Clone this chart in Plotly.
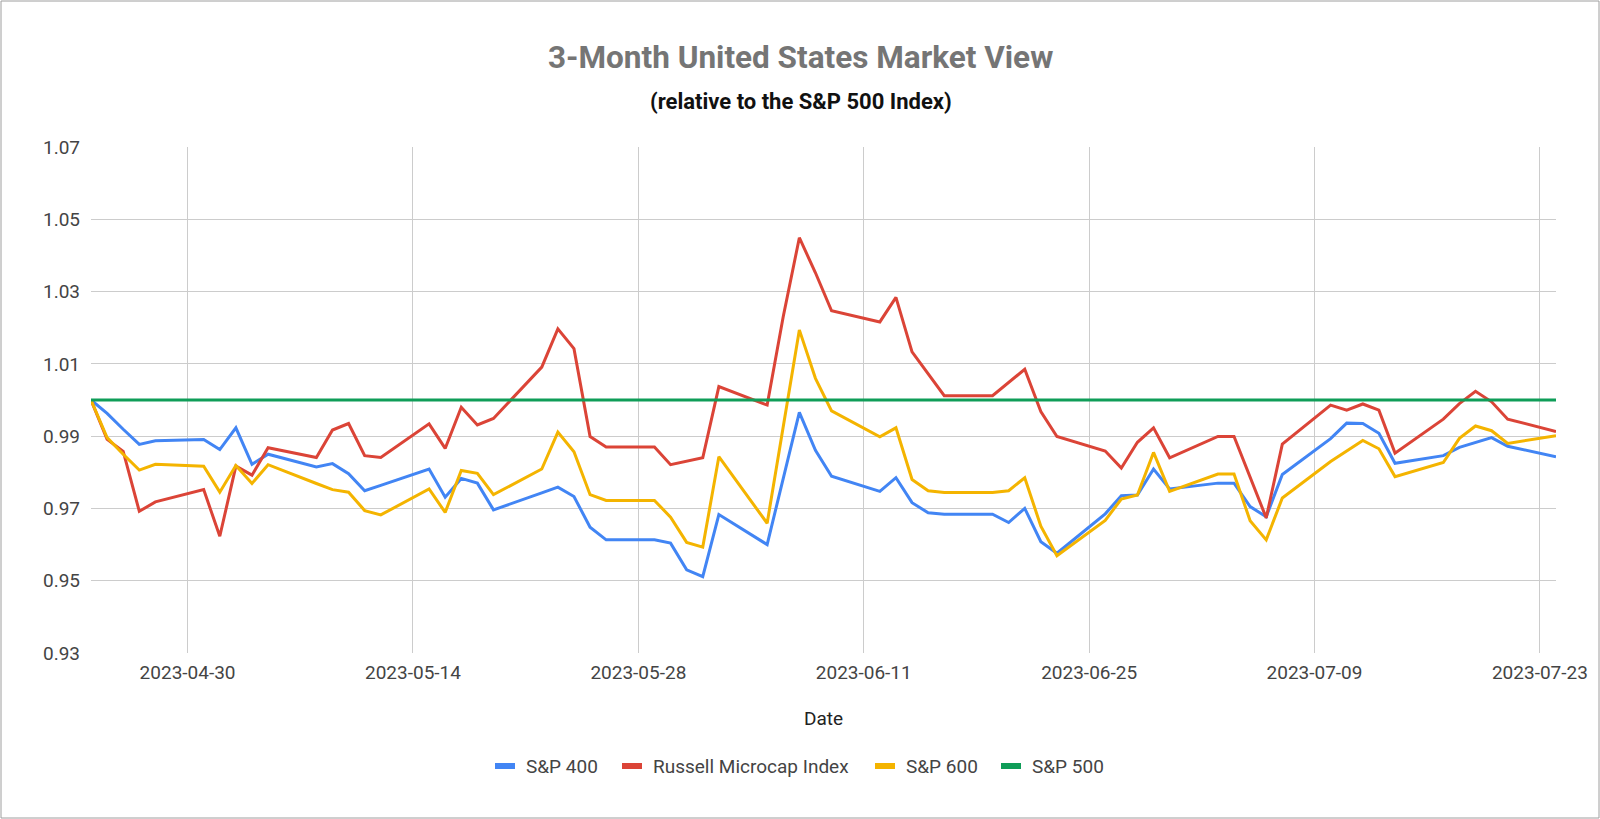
import plotly.graph_objects as go

dates = [
    "2023-04-24", "2023-04-25", "2023-04-26", "2023-04-27", "2023-04-28",
    "2023-05-01", "2023-05-02", "2023-05-03", "2023-05-04", "2023-05-05",
    "2023-05-08", "2023-05-09", "2023-05-10", "2023-05-11", "2023-05-12",
    "2023-05-15", "2023-05-16", "2023-05-17", "2023-05-18", "2023-05-19",
    "2023-05-22", "2023-05-23", "2023-05-24", "2023-05-25", "2023-05-26",
    "2023-05-29", "2023-05-30", "2023-05-31", "2023-06-01", "2023-06-02",
    "2023-06-05", "2023-06-06", "2023-06-07", "2023-06-08", "2023-06-09",
    "2023-06-12", "2023-06-13", "2023-06-14", "2023-06-15", "2023-06-16",
    "2023-06-19", "2023-06-20", "2023-06-21", "2023-06-22", "2023-06-23",
    "2023-06-26", "2023-06-27", "2023-06-28", "2023-06-29", "2023-06-30",
    "2023-07-03", "2023-07-04", "2023-07-05", "2023-07-06", "2023-07-07",
    "2023-07-10", "2023-07-11", "2023-07-12", "2023-07-13", "2023-07-14",
    "2023-07-17", "2023-07-18", "2023-07-19", "2023-07-20", "2023-07-21",
    "2023-07-24",
]

sp400 = [
    1.0000, 0.9963, 0.9919, 0.9877, 0.9887,
    0.9891, 0.9863, 0.9923, 0.9822, 0.9850,
    0.9815, 0.9824, 0.9796, 0.9749, 0.9764,
    0.9809, 0.9731, 0.9783, 0.9770, 0.9696,
    0.9743, 0.9759, 0.9733, 0.9648, 0.9613,
    0.9613, 0.9604, 0.9530, 0.9511, 0.9683,
    0.9600, 0.9782, 0.9966, 0.9861, 0.9789,
    0.9747, 0.9785, 0.9716, 0.9688, 0.9684,
    0.9684, 0.9661, 0.9700, 0.9608, 0.9576,
    0.9685, 0.9735, 0.9737, 0.9809, 0.9754,
    0.9770, 0.9770, 0.9705, 0.9677, 0.9794,
    0.9893, 0.9936, 0.9935, 0.9908, 0.9825,
    0.9846, 0.9869, 0.9883, 0.9896, 0.9872,
    0.9843,
]

russell_micro = [
    1.0000, 0.9891, 0.9858, 0.9692, 0.9718,
    0.9752, 0.9623, 0.9817, 0.9792, 0.9868,
    0.9841, 0.9917, 0.9935, 0.9846, 0.9841,
    0.9934, 0.9866, 0.9980, 0.9931, 0.9949,
    1.0091, 1.0197, 1.0142, 0.9899, 0.9870,
    0.9870, 0.9821, 0.9830, 0.9840, 1.0037,
    0.9986, 1.0231, 1.0449, 1.0352, 1.0247,
    1.0216, 1.0284, 1.0133, 1.0073, 1.0012,
    1.0012, 1.0049, 1.0085, 0.9968, 0.9899,
    0.9859, 0.9812, 0.9883, 0.9923, 0.9840,
    0.9899, 0.9899, 0.9786, 0.9674, 0.9878,
    0.9986, 0.9972, 0.9989, 0.9972, 0.9853,
    0.9947, 0.9990, 1.0024, 0.9995, 0.9947,
    0.9913,
]

sp600 = [
    1.0000, 0.9896, 0.9850, 0.9806, 0.9822,
    0.9817, 0.9745, 0.9819, 0.9769, 0.9821,
    0.9769, 0.9752, 0.9745, 0.9694, 0.9682,
    0.9754, 0.9689, 0.9805, 0.9797, 0.9738,
    0.9809, 0.9911, 0.9857, 0.9738, 0.9722,
    0.9722, 0.9676, 0.9606, 0.9593, 0.9843,
    0.9659, 0.9926, 1.0194, 1.0060, 0.9970,
    0.9898, 0.9923, 0.9780, 0.9749, 0.9744,
    0.9744, 0.9749, 0.9785, 0.9651, 0.9569,
    0.9667, 0.9726, 0.9737, 0.9855, 0.9747,
    0.9795, 0.9795, 0.9666, 0.9613, 0.9729,
    0.9830, 0.9860, 0.9888, 0.9865, 0.9788,
    0.9827, 0.9894, 0.9928, 0.9915, 0.9880,
    0.9901,
]

sp500 = [1.0] * len(dates)

series_names = ["S&P 400", "Russell Microcap Index", "S&P 600", "S&P 500"]
series_values = [sp400, russell_micro, sp600, sp500]
series_colors = ["#4285F4", "#DB4437", "#F4B400", "#0F9D58"]

title_text = "3-Month United States Market View"
subtitle_text = "(relative to the S&P 500 Index)"
x_title = "Date"

FONT = "Roboto, Arial, sans-serif"

fig = go.Figure()
for name, vals, col in zip(series_names, series_values, series_colors):
    fig.add_trace(go.Scatter(
        x=dates, y=vals, name=name, mode="lines",
        line=dict(color=col, width=3),
    ))

W, H = 1600, 819
ML, MR, MT, MB = 91, 44, 147, 166
ph = H - MT - MB
pw = W - ML - MR

def py(pix):
    return (H - MB - pix) / ph

def px(pix):
    return (pix - ML) / pw

# custom legend layout (pixel positions of each entry's swatch start)
legend_swatch_x = [495, 622, 875, 1001]
SW_W, SW_H, SW_GAP = 20, 6, 9
LEG_Y = 766

annotations = [
    dict(text="<b>" + title_text + "</b>", x=px(800), xref="paper", y=py(58), yref="paper",
         xanchor="center", yanchor="middle", showarrow=False,
         font=dict(family=FONT, size=31.5, color="#757575")),
    dict(text="<b>" + subtitle_text + "</b>", x=px(801), xref="paper", y=py(101), yref="paper",
         xanchor="center", yanchor="middle", showarrow=False,
         font=dict(family=FONT, size=22, color="#111111")),
]
shapes = [
    dict(type="rect", xref="paper", yref="paper",
         x0=px(1), x1=px(W - 1), y0=py(H - 1), y1=py(1),
         line=dict(color="#9e9e9e", width=1), fillcolor="rgba(0,0,0,0)", layer="below"),
]
for name, col, sx in zip(series_names, series_colors, legend_swatch_x):
    shapes.append(dict(type="rect", xref="paper", yref="paper",
                       x0=px(sx), x1=px(sx + SW_W), y0=py(LEG_Y + SW_H / 2), y1=py(LEG_Y - SW_H / 2),
                       line=dict(width=0), fillcolor=col))
    annotations.append(dict(text=name, x=px(sx + SW_W + SW_GAP), xref="paper", y=py(LEG_Y), yref="paper",
                            xanchor="left", yanchor="middle", showarrow=False,
                            font=dict(family=FONT, size=19, color="#444444")))

fig.update_layout(
    width=W, height=H,
    margin=dict(l=ML, r=MR, t=MT, b=MB, pad=0, autoexpand=False),
    paper_bgcolor="white", plot_bgcolor="white",
    font=dict(family=FONT, size=19, color="#444444"),
    showlegend=False,
    xaxis=dict(
        type="date",
        range=["2023-04-24", "2023-07-24"],
        tick0="2023-04-30", dtick=14 * 86400000,
        tickformat="%Y-%m-%d", tickangle=0,
        showgrid=True, gridcolor="#cccccc", gridwidth=1,
        zeroline=False, showline=False, ticks="",
        ticklabelstandoff=6,
        tickfont=dict(size=19, color="#444444"),
        title=dict(text=x_title, font=dict(size=19, color="#222222"), standoff=28),
        automargin=False,
    ),
    yaxis=dict(
        range=[0.93, 1.07], tick0=0.93, dtick=0.02, tickformat=".2f",
        showgrid=True, gridcolor="#cccccc", gridwidth=1,
        zeroline=False, showline=False, ticks="",
        ticklabelstandoff=10,
        tickfont=dict(size=19, color="#444444"),
        automargin=False,
    ),
    annotations=annotations,
    shapes=shapes,
)

fig.write_html("out.html", config={"displayModeBar": False},
               post_script="document.body.style.margin='0';document.body.style.overflow='hidden';")
